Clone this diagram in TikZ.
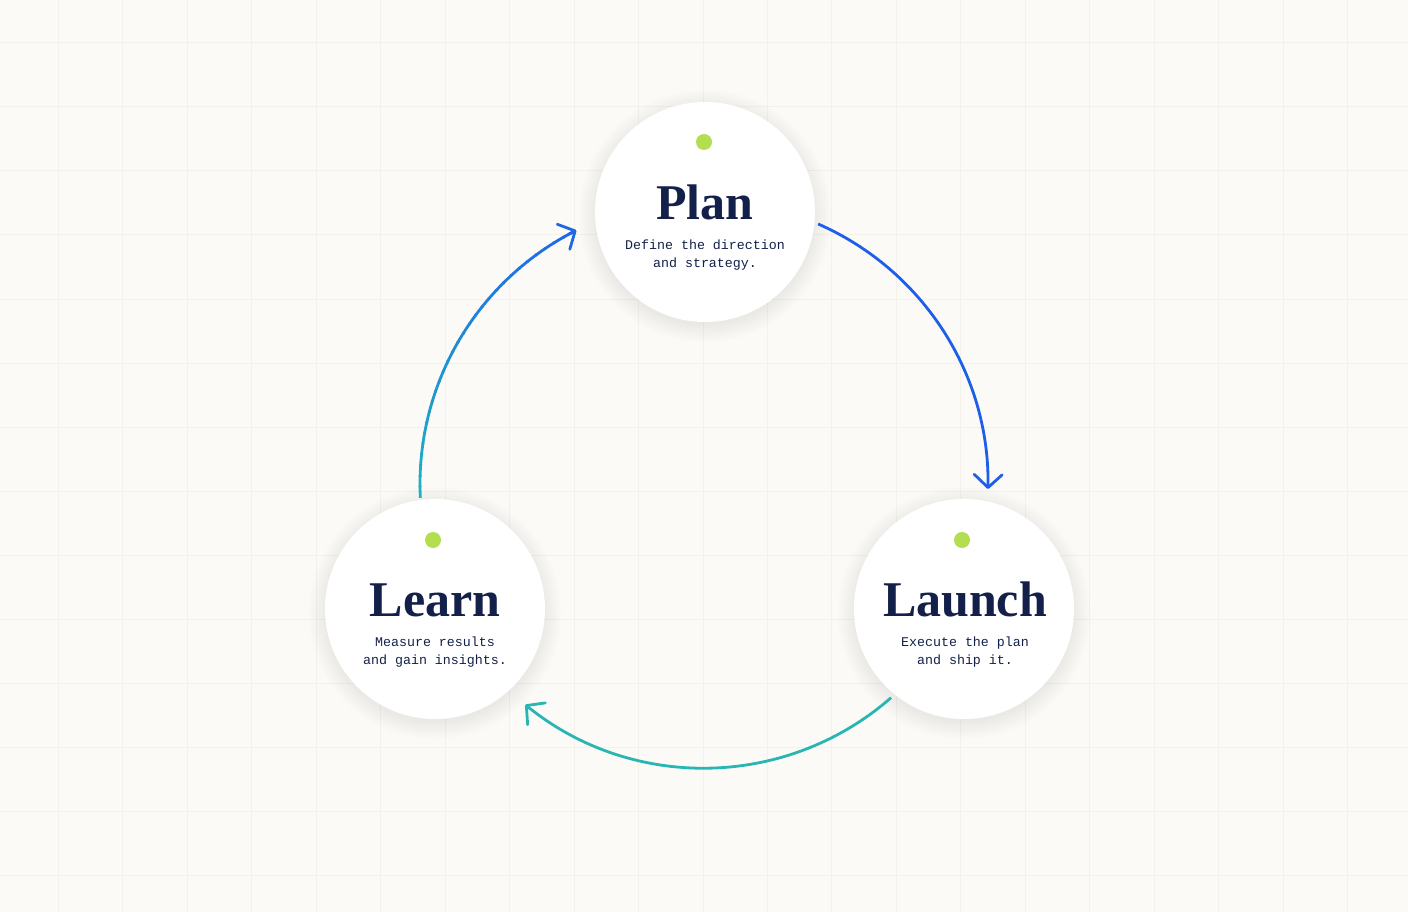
\documentclass[tikz,border=0pt]{standalone}
\usepackage{fontspec}
\setmainfont{Liberation Serif}
\newfontfamily\titlefont{Liberation Serif}
\newfontfamily\descfont{Liberation Mono}
\usetikzlibrary{arrows.meta}
\definecolor{bg}{HTML}{FCFAF6}
\definecolor{gridc}{HTML}{F4F1EB}
\definecolor{navy}{HTML}{13214A}
\definecolor{dotc}{HTML}{B3DE4F}
\definecolor{arrblue}{HTML}{1D5FE9}
\definecolor{arrteal}{HTML}{27B6B4}
\definecolor{gradA}{HTML}{1FB0C4}
\definecolor{gradB}{HTML}{1E68E6}
\tikzset{
  stage/.style={circle, fill=white, minimum size=220pt, inner sep=0pt},
  titletext/.style={anchor=base, inner sep=0pt, text=navy, font=\titlefont\bfseries\fontsize{50}{60}\selectfont},
  desctext/.style={anchor=base, inner sep=0pt, text=navy, font=\descfont\fontsize{13.3}{18}\selectfont},
  dotn/.style={circle, fill=dotc, minimum size=16pt, inner sep=0pt},
  flow/.style={line width=2.8pt},
  tip/.style={-{Straight Barb[length=13pt,width=28pt,round]}}
}
\begin{document}
\begin{tikzpicture}[x=1pt,y=-1pt]
\useasboundingbox (0,0) rectangle (1408,912);
\fill[bg] (0,0) rectangle (1408,912);
% grid
\foreach \k in {0,...,21} \draw[gridc, line width=1pt] ({58.5+64.45*\k},0) -- ({58.5+64.45*\k},912);
\foreach \k in {0,...,13} \draw[gridc, line width=1pt] (0,{43+64*\k}) -- (1408,{43+64*\k});
% centres
\coordinate (pc) at (705,212);
\coordinate (lc) at (435,609);
\coordinate (uc) at (964,609);
\coordinate (cyc) at (704,484);
% shadows
\foreach \sx/\sy in {705/216, 435/613, 964/613}
  \foreach \k in {0,...,16}
    \fill[black, opacity=0.0035] (\sx,\sy) circle ({109+1.1*\k});
% circles
\node[stage] (plan) at (pc) {};
\node[stage] (learn) at (lc) {};
\node[stage] (launch) at (uc) {};
% dots
\node[dotn] (pdot) at (704,142) {};
\node[dotn] (ldot) at (433,540) {};
\node[dotn] (udot) at (962,540) {};
% texts
\node[titletext] (ptitle) at (705,219) {Plan};
\node[desctext] (pd1) at (705,249) {Define the direction};
\node[desctext] (pd2) at (705,267) {and strategy.};
\node[titletext] (ltitle) at (435,616) {Learn};
\node[desctext] (ld1) at (435,646) {Measure results};
\node[desctext] (ld2) at (435,664) {and gain insights.};
\node[titletext] (utitle) at (965,616) {Launch};
\node[desctext] (ud1) at (965,646) {Execute the plan};
\node[desctext] (ud2) at (965,664) {and ship it.};
% Plan -> Launch
\draw[arrblue, flow, tip] ([shift={(-66.3:284)}]cyc) arc[start angle=-66.3, end angle=1, radius=284];
% Launch -> Learn
\draw[arrteal, flow, tip] ([shift={(48.8:284)}]cyc) arc[start angle=48.8, end angle=129, radius=284];
% Learn -> Plan (gradient)
\foreach \i in {0,...,29} {
  \pgfmathsetmacro\aa{177.2+\i*2.17}
  \pgfmathsetmacro\bb{\aa+2.5}
  \pgfmathtruncatemacro\pp{\i*100/29}
  \draw[flow, color=gradB!\pp!gradA] ([shift={(\aa:284)}]cyc) arc[start angle=\aa, end angle=\bb, radius=284];
}
\draw[gradB, flow, tip] ([shift={(241.5:284)}]cyc) arc[start angle=241.5, end angle=243.3, radius=284];
\end{tikzpicture}
\end{document}
